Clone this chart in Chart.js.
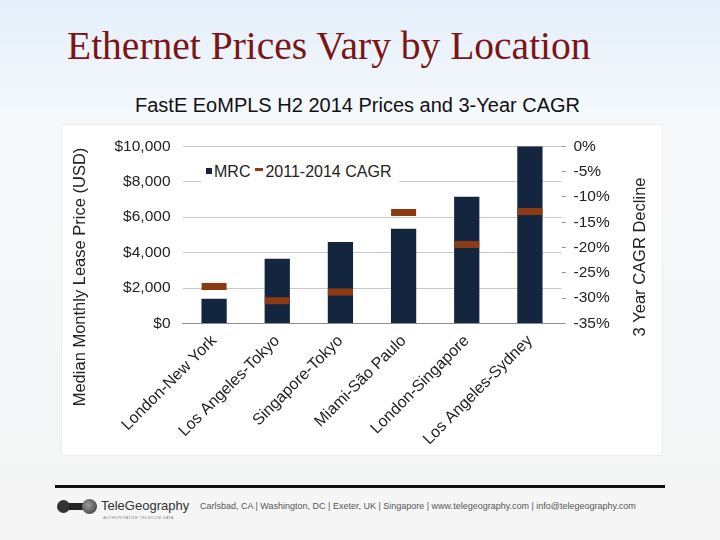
<!DOCTYPE html>
<html>
<head>
<meta charset="utf-8">
<script src="https://cdn.jsdelivr.net/npm/chart.js@4/dist/chart.umd.min.js"></script>
<style>
  html, body { margin: 0; padding: 0; }
  body {
    width: 720px; height: 540px; position: relative; overflow: hidden;
    background: linear-gradient(to bottom, #e3effa 0%, #f6f9fc 22%, #f5f5f5 100%);
    font-family: "Liberation Sans", Arial, sans-serif;
  }
  #titulo {
    position: absolute; left: 67px; top: 23px;
    font-family: "Liberation Serif", "Times New Roman", serif;
    font-size: 39.5px; color: #7d1416; white-space: nowrap;
  }
  #subtitulo {
    position: absolute; left: 0; width: 715px; top: 94px; text-align: center;
    font-size: 20px; color: #111;
  }
  #painel {
    position: absolute; left: 62px; top: 125px; width: 600px; height: 330px;
    background: #fff; box-shadow: 0 0 0 1px #ececec;
  }
  #legenda {
    position: absolute; left: 201px; top: 161px; width: 198px; height: 22px;
    background: #fff; font-size: 16px; color: #222; line-height: 22px; white-space: nowrap;
  }
  #legenda .quad { display: inline-block; width: 6px; height: 6px; background: #14263f; margin: 0 2px 3px 5px; vertical-align: middle; }
  #legenda .traco { display: inline-block; width: 8px; height: 3px; background: #8b3a12; margin: 0 2px 6px 5px; vertical-align: middle; }
  #linha { position: absolute; left: 55px; top: 485px; width: 610px; height: 3px; background: #111; }
  #rodape {
    position: absolute; left: 200px; top: 501px; font-size: 9px; color: #555; white-space: nowrap;
  }
  #logo { position: absolute; left: 57px; top: 498px; width: 140px; height: 24px; }
  #logo .g1 { position: absolute; left: 0; top: 2px; width: 13px; height: 13px; border-radius: 50%; background: #333; }
  #logo .bar { position: absolute; left: 12px; top: 5px; width: 14px; height: 7px; background: #222; }
  #logo .g2 { position: absolute; left: 25px; top: 1px; width: 15px; height: 15px; border-radius: 50%; background: radial-gradient(circle at 40% 40%, #999, #333); }
  #logo .nome { position: absolute; left: 44px; top: 0; font-size: 13px; color: #333; }
  #logo .slogan { position: absolute; left: 46px; top: 17px; font-size: 4px; color: #888; letter-spacing: 0.3px; }
</style>
</head>
<body>
<div id="titulo">Ethernet Prices Vary by Location</div>
<div id="subtitulo">FastE EoMPLS H2 2014 Prices and 3-Year CAGR</div>
<div id="painel"><canvas id="grafico"></canvas></div>
<div id="legenda"><span class="quad"></span>MRC<span class="traco"></span>2011-2014 CAGR</div>
<div id="linha"></div>
<div id="logo"><div class="g1"></div><div class="bar"></div><div class="g2"></div><div class="nome">TeleGeography</div><div class="slogan">AUTHORITATIVE TELECOM DATA</div></div>
<div id="rodape">Carlsbad, CA | Washington, DC | Exeter, UK | Singapore | www.telegeography.com | info@telegeography.com</div>

<script>
// dados
const rotas = ['London-New York', 'Los Angeles-Tokyo', 'Singapore-Tokyo', 'Miami-São Paulo', 'London-Singapore', 'Los Angeles-Sydney'];
const mrc = [1400, 3650, 4600, 5350, 7150, 10000];
const cagr = [-27.7, -30.5, -28.8, -13.1, -19.4, -12.9];
const ticksPreco = [0, 2000, 4000, 6000, 8000, 10000];
const ticksCagr = [0, -5, -10, -15, -20, -25, -30, -35];

const fonte = "'Liberation Sans', Arial, sans-serif";

// títulos dos eixos, lidos de baixo para cima como no original
const titulosEixos = {
    id: 'titulosEixos',
    afterDraw(chart) {
        const ctx = chart.ctx;
        const escrever = (texto, x, y) => {
            ctx.save();
            ctx.translate(x, y);
            ctx.rotate(-Math.PI / 2);
            ctx.font = "16.5px " + fonte;
            ctx.fillStyle = '#222';
            ctx.textAlign = 'center';
            ctx.textBaseline = 'middle';
            ctx.fillText(texto, 0, 0);
            ctx.restore();
        };
        escrever('Median Monthly Lease Price (USD)', 18, 152);
        escrever('3 Year CAGR Decline', 578, 132);
    }
};

const ctxGrafico = document.getElementById('grafico').getContext('2d');
new Chart(ctxGrafico, {
    data: {
        labels: rotas,
        datasets: [
            {
                type: 'line',
                label: '2011-2014 CAGR',
                data: cagr,
                yAxisID: 'y1',
                showLine: false,
                pointStyle: 'line',
                pointRadius: 12.5,
                pointHoverRadius: 12.5,
                pointBorderWidth: 7,
                pointHoverBorderWidth: 7,
                borderColor: '#8b3a12',
                backgroundColor: '#8b3a12',
                order: 1
            },
            {
                type: 'bar',
                label: 'MRC',
                data: mrc,
                yAxisID: 'y',
                backgroundColor: '#14263f',
                barPercentage: 0.4,
                categoryPercentage: 1,
                order: 2
            }
        ]
    },
    options: {
        responsive: true,
        maintainAspectRatio: false,
        animation: false,
        layout: { padding: { top: 21, left: 0, right: 0, bottom: 0 } },
        plugins: { legend: { display: false }, tooltip: { enabled: false } },
        scales: {
            x: {
                grid: { display: false, drawTicks: false },
                border: { display: true, color: '#8c8c8c' },
                ticks: { color: '#222', font: { family: fonte, size: 16 }, minRotation: 45, maxRotation: 45, padding: 8 },
                afterFit: s => { s.height = 131.5; }
            },
            y: {
                position: 'left',
                min: 0, max: 10000,
                afterBuildTicks: s => { s.ticks = ticksPreco.map(v => ({ value: v })); },
                grid: { color: '#c8c8c8', drawTicks: false },
                border: { display: false },
                ticks: {
                    color: '#222', padding: 12,
                    font: { family: fonte, size: 15.5 },
                    callback: v => '$' + v.toLocaleString('en-US')
                },
                afterFit: s => { s.width = 120.5; }
            },
            y1: {
                position: 'right',
                min: -35, max: 0,
                afterBuildTicks: s => { s.ticks = ticksCagr.map(v => ({ value: v })); },
                grid: { drawOnChartArea: false, color: '#8c8c8c', tickLength: 4 },
                border: { display: false },
                ticks: { color: '#222', padding: 8, font: { family: fonte, size: 15.5 }, callback: v => v + '%' },
                afterFit: s => { s.width = 100.5; }
            }
        }
    },
    plugins: [titulosEixos]
});
</script>
</body>
</html>
